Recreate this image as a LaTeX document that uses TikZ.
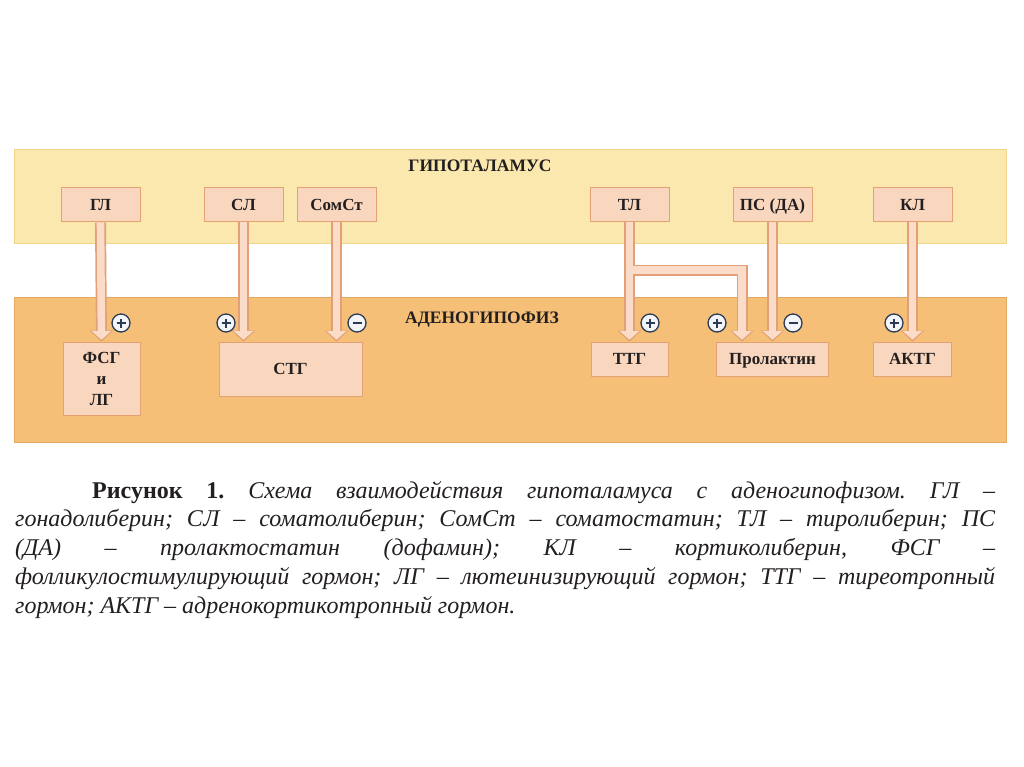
\documentclass[tikz,border=0pt]{standalone}
\usepackage{fontspec}
\setmainfont{Liberation Serif}
\usetikzlibrary{arrows.meta}

\definecolor{hypo}{HTML}{FBE8AE}
\definecolor{hypoedge}{HTML}{F0D48C}
\definecolor{adeno}{HTML}{F6BF78}
\definecolor{adenoedge}{HTML}{E3A862}
\definecolor{boxfill}{HTML}{F9D7BF}
\definecolor{boxedge}{HTML}{E4A173}
\definecolor{arrfill}{HTML}{FBDCC8}
\definecolor{arredge}{HTML}{E3A076}
\definecolor{signedge}{HTML}{2B3A55}
\definecolor{signfill}{HTML}{F3F5F8}
\definecolor{ink}{HTML}{231F20}

\tikzset{
  hormone/.style={draw=boxedge, fill=boxfill, line width=1pt, minimum width=79pt,
    minimum height=34pt, inner sep=0pt, text height=11pt, text depth=0pt,
    text=ink, font=\fontsize{17}{21}\selectfont\bfseries},
  zone/.style={text=ink, font=\fontsize{17.5}{20}\selectfont\bfseries},
  arrback/.style={line width=11pt, draw=arredge,
    -{Triangle[length=11pt,width=24pt,line width=0pt]}},
  arrfront/.style={line width=7.6pt, draw=arrfill, shorten >=1.8pt,
    -{Triangle[length=8.6pt,width=19.5pt,line width=0pt]}},
  sign/.style={circle, draw=signedge, fill=signfill, line width=1.3pt, minimum size=18pt,
    inner sep=0pt},
  minussign/.style={sign, path picture={\draw[signedge, line width=1.7pt]
    ([xshift=-4.5pt]path picture bounding box.center) -- ([xshift=4.5pt]path picture bounding box.center);}},
  plussign/.style={sign, path picture={\draw[signedge, line width=1.7pt]
    ([xshift=-4.5pt]path picture bounding box.center) -- ([xshift=4.5pt]path picture bounding box.center)
    ([yshift=-4.5pt]path picture bounding box.center) -- ([yshift=4.5pt]path picture bounding box.center);}}
}

\begin{document}
\begin{tikzpicture}[x=1pt,y=-1pt]
\useasboundingbox[fill=white] (0,0) rectangle (1024,767);
% bands
\draw[fill=hypo, draw=hypoedge, line width=1pt] (14,150) rectangle (1006,243);
\draw[fill=adeno, draw=adenoedge, line width=1pt] (14,297) rectangle (1006,442);
\node[zone] (hypolab) at (480,166) {ГИПОТАЛАМУС};
\node[zone] (adenolab) at (482,320) {АДЕНОГИПОФИЗ};
% releasing factors
\node[hormone] (gl) at (100.5,205) {ГЛ};
\node[hormone] (sl) at (243.5,205) {СЛ};
\node[hormone] (somst) at (336.5,205) {СомСт};
\node[hormone] (tl) at (629.5,205) {ТЛ};
\node[hormone] (ps) at (772.5,205) {ПС (ДА)};
\node[hormone] (kl) at (912.5,205) {КЛ};
% pituitary hormones
\node[hormone, minimum width=77pt, minimum height=73pt, text height=, text depth=, align=center] (fsg) at (101.5,378.5) {ФСГ\\и\\ЛГ};
\node[hormone, minimum width=143pt, minimum height=54pt] (stg) at (290.5,369) {СТГ};
\node[hormone, minimum width=77pt] (ttg) at (629.5,359) {ТТГ};
\node[hormone, minimum width=112pt] (prl) at (772.5,359) {Пролактин};
\node[hormone, minimum width=78pt] (aktg) at (912.5,359) {АКТГ};
% arrows (outline first, then fill)
\coordinate (lvl) at (0,270);
\coordinate (prlin) at ([xshift=26pt]prl.north west);
\foreach \sty in {arrback,arrfront}{
  \draw[\sty] (gl.south) -- (fsg.north);
  \draw[\sty] (sl.south) -- (sl.south |- stg.north);
  \draw[\sty] (somst.south) -- (somst.south |- stg.north);
  \draw[\sty] (tl.south) -- (ttg.north);
  \draw[\sty] (tl.south) -- (tl.south |- lvl) -| (prlin);
  \draw[\sty] (ps.south) -- (prl.north);
  \draw[\sty] (kl.south) -- (aktg.north);
}
% signs
\node[plussign] (sgl) at (121,323) {};
\node[plussign] (ssl) at (226,323) {};
\node[minussign] (ssomst) at (357,323) {};
\node[plussign] (stl) at (650,323) {};
\node[plussign] (sprl) at (717,323) {};
\node[minussign] (sps) at (793,323) {};
\node[plussign] (skl) at (894,323) {};
% caption
\node[anchor=north west, text width=980pt, align=justify, inner sep=0pt, text=ink,
  font=\fontsize{24}{28.7}\selectfont\frenchspacing] (caption) at (15,481)
  {\hspace*{77pt}\textbf{Рисунок 1.} \textit{Схема взаимодействия гипоталамуса с аденогипофизом. ГЛ –\linebreak
  гонадолиберин; СЛ – соматолиберин; СомСт – соматостатин; ТЛ – тиролиберин; ПС\linebreak
  (ДА) – пролактостатин (дофамин); КЛ – кортиколиберин, ФСГ –\linebreak
  фолликулостимулирующий гормон; ЛГ – лютеинизирующий гормон; ТТГ – тиреотропный\linebreak
  гормон; АКТГ – адренокортикотропный гормон.}};
\end{tikzpicture}
\end{document}
